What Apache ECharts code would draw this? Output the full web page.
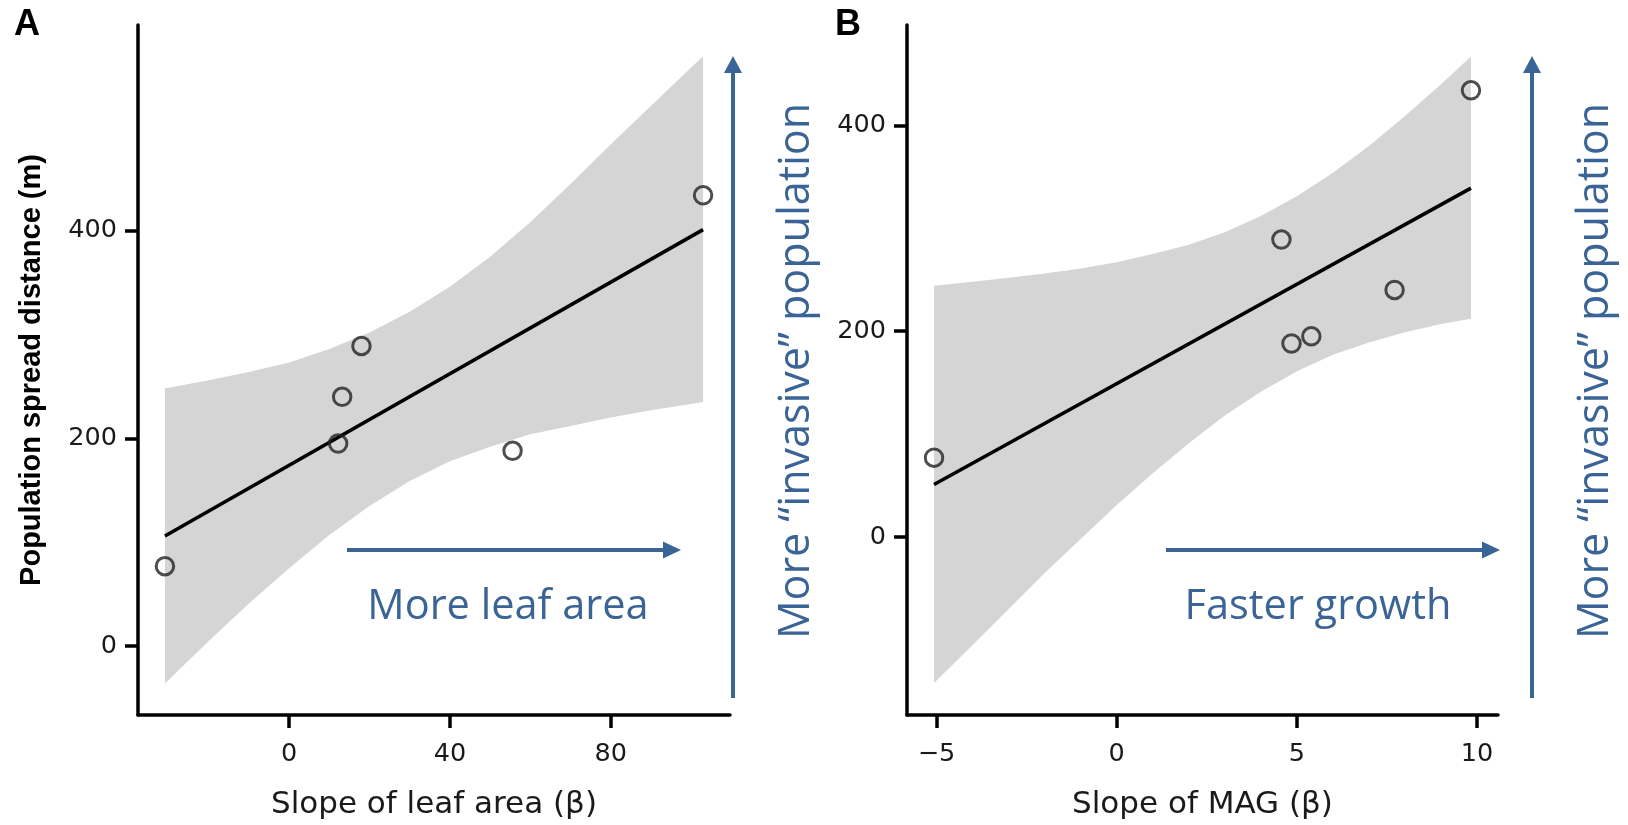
<!DOCTYPE html>
<html>
<head>
<meta charset="utf-8">
<script src="https://cdn.jsdelivr.net/npm/echarts@6/dist/echarts.min.js"></script>
<style>
  html, body { margin: 0; padding: 0; background: #fff; }
  #chart { width: 1628px; height: 825px; }
</style>
</head>
<body>
<div id="chart"></div>
<script>
// ---------------- Data ----------------
// Panel A: slope of leaf area (β) vs population spread distance (m)
const leafSlopeX   = [-30.9, 12.2, 13.2, 18.0, 55.6, 103.0];
const leafSpreadY  = [77, 195, 240, 289, 188, 434];
const leafFitX     = [-30.9, 103.0];
const leafFitY     = [106, 401];
const leafBandX    = [-30.9, -20, -10, 0, 10, 20, 30, 40, 50, 60, 70, 80, 90, 103.0];
const leafBandLow  = [-36, 5, 41, 75, 107, 135, 159, 178, 192, 204, 212, 220, 227, 235];
const leafBandHigh = [248, 256, 264, 273, 286, 302, 322, 346, 375, 408, 445, 483, 520, 568];

// Panel B: slope of MAG (β) vs population spread distance (m)
const magSlopeX    = [-5.07, 4.57, 4.85, 5.40, 7.71, 9.83];
const magSpreadY   = [77, 289, 188, 195, 240, 434];
const magFitX      = [-5.07, 9.83];
const magFitY      = [51, 339];
const magBandX     = [-5.07, -4, -3, -2, -1, 0, 1, 2, 3, 4, 5, 6, 7, 8, 9, 9.83];
const magBandLow   = [-142, -105, -70, -35, -2, 31, 62, 91, 118, 141, 161, 177, 189, 199, 207, 212];
const magBandHigh  = [244, 248, 252, 256, 261, 267, 275, 284, 296, 312, 331, 354, 380, 409, 440, 467];

// Tick labels
const leafTicksX = [0, 40, 80];
const magTicksX  = [-5, 0, 5, 10];
const spreadTicksY = [0, 200, 400];

// Texts
const panelLabels = ['A', 'B'];
const yTitle = 'Population spread distance (m)';
const xTitleA = 'Slope of leaf area (\u03B2)';
const xTitleB = 'Slope of MAG (\u03B2)';
const noteA = 'More leaf area';
const noteB = 'Faster growth';
const noteV = 'More \u201Cinvasive\u201D population';

// ---------------- Styles ----------------
const BLUE = '#3B6496';
const AXIS_W = 3.5;
const tickFont = { fontFamily: 'DejaVu Sans', fontSize: 25.5, color: '#1a1a1a' };

function pairs(xs, ys) { return xs.map((x, i) => [x, ys[i]]); }

function bandSeries(xs, lo, hi, idx) {
  const rows = xs.map((x, i) => [x, lo[i], hi[i]]);
  return {
    type: 'custom', xAxisIndex: idx, yAxisIndex: idx, data: rows, z: 1, silent: true,
    encode: { x: 0, y: [1, 2] },
    renderItem: function (params, api) {
      if (params.dataIndex !== 0) return null;
      const top = rows.map(r => api.coord([r[0], r[2]]));
      const bot = rows.map(r => api.coord([r[0], r[1]])).reverse();
      return { type: 'polygon', shape: { points: top.concat(bot) }, style: { fill: '#D5D5D5' } };
    }
  };
}

function xAxisCfg(idx, min, max, ticks, name) {
  return {
    type: 'value', gridIndex: idx, min: min, max: max,
    name: name, nameLocation: 'middle', nameGap: 74,
    nameTextStyle: { fontFamily: 'DejaVu Sans', fontSize: 31, color: '#1a1a1a' },
    axisLine: { show: true, onZero: false, lineStyle: { color: '#000', width: AXIS_W } },
    axisTick: { show: true, length: 13, customValues: ticks, lineStyle: { color: '#000', width: AXIS_W } },
    axisLabel: Object.assign({ customValues: ticks, margin: 26, formatter: v => String(v).replace('-', '\u2212') }, tickFont),
    splitLine: { show: false }
  };
}
function yAxisCfg(idx, min, max, ticks, name) {
  return {
    type: 'value', gridIndex: idx, min: min, max: max,
    name: name, nameLocation: 'middle', nameGap: 92, nameRotate: 90,
    nameTextStyle: { fontFamily: 'Liberation Sans', fontWeight: 'bold', fontSize: 29, color: '#000' },
    axisLine: { show: true, onZero: false, lineStyle: { color: '#000', width: AXIS_W } },
    axisTick: { show: true, length: 13, customValues: ticks, lineStyle: { color: '#000', width: AXIS_W } },
    axisLabel: Object.assign({ customValues: ticks, margin: 21 }, tickFont),
    splitLine: { show: false }
  };
}

function hArrow(x0, x1, y) {
  return [
    { type: 'line', shape: { x1: x0, y1: y, x2: x1 - 14, y2: y }, style: { stroke: BLUE, lineWidth: 4 } },
    { type: 'polygon', shape: { points: [[x1 - 18, y - 8.5], [x1, y], [x1 - 18, y + 8.5]] }, style: { fill: BLUE } }
  ];
}
function vArrow(x, y0, y1) {
  return [
    { type: 'line', shape: { x1: x, y1: y0, x2: x, y2: y1 + 14 }, style: { stroke: BLUE, lineWidth: 4 } },
    { type: 'polygon', shape: { points: [[x - 9, y1 + 17], [x, y1], [x + 9, y1 + 17]] }, style: { fill: BLUE } }
  ];
}
function note(text, x, y, size, rot) {
  return { type: 'text', x: x, y: y, rotation: rot || 0,
    style: { text: text, fill: BLUE, font: size + 'px "Open Sans"', align: 'center', verticalAlign: 'middle' } };
}

const chart = echarts.init(document.getElementById('chart'), null, { renderer: 'canvas' });
chart.setOption({
  backgroundColor: '#fff',
  animation: false,
  grid: [
    { left: 138, top: 25, width: 592, height: 692 },
    { left: 907, top: 25, width: 591, height: 691 }
  ],
  xAxis: [
    xAxisCfg(0, -37.6, 109.7, leafTicksX, xTitleA),
    xAxisCfg(1, -5.82, 10.58, magTicksX, xTitleB)
  ],
  yAxis: [
    yAxisCfg(0, -66.3, 598, spreadTicksY, yTitle),
    yAxisCfg(1, -173, 497.5, spreadTicksY, '')
  ],
  series: [
    bandSeries(leafBandX, leafBandLow, leafBandHigh, 0),
    bandSeries(magBandX, magBandLow, magBandHigh, 1),
    { type: 'line', xAxisIndex: 0, yAxisIndex: 0, data: pairs(leafFitX, leafFitY), symbol: 'none', z: 2,
      lineStyle: { color: '#000', width: 3.5 } },
    { type: 'line', xAxisIndex: 1, yAxisIndex: 1, data: pairs(magFitX, magFitY), symbol: 'none', z: 2,
      lineStyle: { color: '#000', width: 3.5 } },
    { type: 'scatter', xAxisIndex: 0, yAxisIndex: 0, data: pairs(leafSlopeX, leafSpreadY), symbol: 'circle', symbolSize: 17.5, z: 3,
      itemStyle: { color: 'rgba(0,0,0,0)', borderColor: '#222', borderWidth: 3 } },
    { type: 'scatter', xAxisIndex: 1, yAxisIndex: 1, data: pairs(magSlopeX, magSpreadY), symbol: 'circle', symbolSize: 17.5, z: 3,
      itemStyle: { color: 'rgba(0,0,0,0)', borderColor: '#222', borderWidth: 3 } }
  ],
  graphic: [
    { type: 'text', left: 14, top: 7, style: { text: panelLabels[0], font: 'bold 36px "Liberation Sans"', fill: '#000' } },
    { type: 'text', left: 835, top: 7, style: { text: panelLabels[1], font: 'bold 36px "Liberation Sans"', fill: '#000' } },
    ...hArrow(347, 681, 550),
    ...hArrow(1166, 1500, 550),
    ...vArrow(733, 698, 56),
    ...vArrow(1532, 698, 56),
    note(noteA, 508, 607, 41.5),
    note(noteB, 1318, 607, 41.5),
    note(noteV, 797, 371, 43, Math.PI / 2),
    note(noteV, 1596, 371, 43, Math.PI / 2)
  ]
});
</script>
</body>
</html>
